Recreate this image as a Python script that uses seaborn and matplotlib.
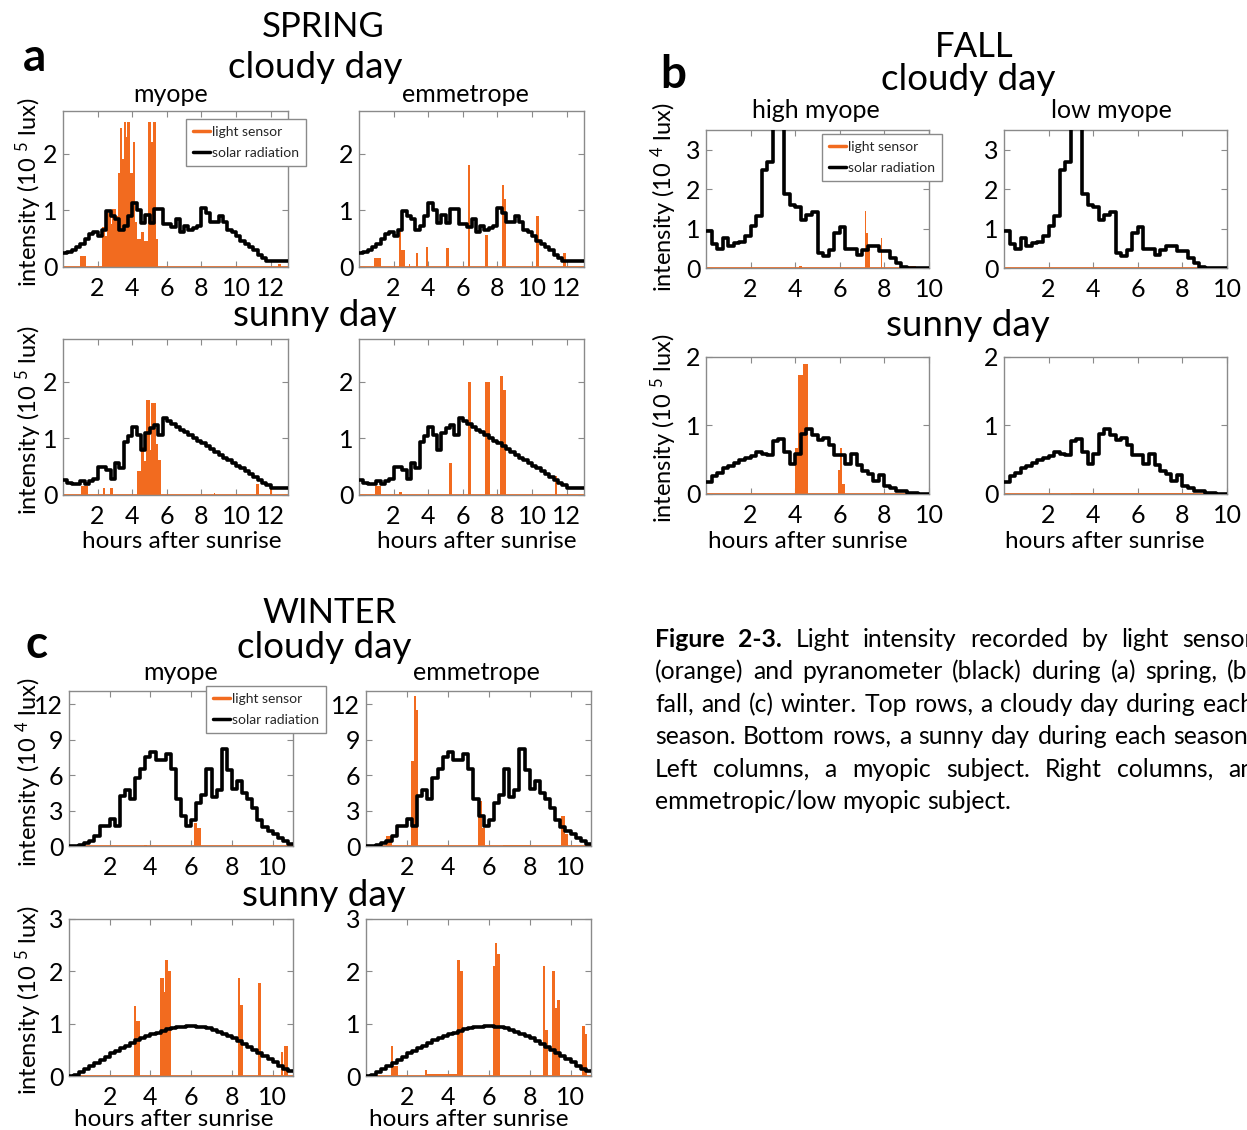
import numpy as np
import matplotlib
matplotlib.use('Agg')
import matplotlib.pyplot as plt
from matplotlib.lines import Line2D
import seaborn as sns

sns.set_theme(style='white')
plt.rcParams['font.family'] = ['Lato', 'DejaVu Sans']
plt.rcParams['mathtext.fontset'] = 'custom'
plt.rcParams['mathtext.rm'] = 'Lato'
plt.rcParams['mathtext.it'] = 'Lato'

W, H = 1247, 1130
ORANGE = '#f26b1f'
BIN = 0.25  # pyranometer values are 15-min averages

# ---- solar radiation (pyranometer), one value per 15 min bin ----
spring_cloudy_solar = [0.25, 0.27, 0.30, 0.35, 0.40, 0.50, 0.58, 0.62, 0.55, 0.66,
                       0.98, 0.90, 0.85, 0.66, 0.72, 0.90, 1.12, 1.00, 0.78, 0.92,
                       0.78, 1.03, 1.03, 0.75, 0.75, 0.70, 0.84, 0.62, 0.72, 0.66,
                       0.68, 0.72, 1.04, 0.95, 0.80, 0.80, 0.90, 0.80, 0.66, 0.62,
                       0.54, 0.45, 0.40, 0.36, 0.30, 0.22, 0.16, 0.10, 0.10, 0.10,
                       0.10, 0.10]
spring_sunny_solar = [0.26, 0.22, 0.19, 0.20, 0.24, 0.19, 0.24, 0.28, 0.50, 0.50,
                      0.44, 0.28, 0.57, 0.47, 0.94, 1.04, 1.20, 1.05, 0.80, 1.09,
                      1.18, 1.24, 1.06, 1.35, 1.30, 1.25, 1.20, 1.15, 1.11, 1.06,
                      1.01, 0.96, 0.91, 0.86, 0.81, 0.76, 0.71, 0.66, 0.62, 0.57,
                      0.52, 0.47, 0.42, 0.37, 0.32, 0.27, 0.22, 0.17, 0.12, 0.12,
                      0.12, 0.12]
fall_cloudy_solar = [0.95, 0.60, 0.48, 0.76, 0.55, 0.63, 0.65, 0.82, 1.06, 1.31,
                     2.49, 2.68, 3.60, 3.60, 1.88, 1.60, 1.54, 1.22, 1.35, 1.41,
                     0.38, 0.30, 0.46, 0.89, 1.04, 0.48, 0.48, 0.34, 0.46, 0.55,
                     0.57, 0.44, 0.42, 0.25, 0.13, 0.03, 0.0, 0.0, 0.0, 0.0]
fall_sunny_solar = [0.18, 0.26, 0.31, 0.38, 0.41, 0.45, 0.50, 0.52, 0.55, 0.61,
                    0.59, 0.57, 0.77, 0.80, 0.62, 0.44, 0.58, 0.87, 0.95, 0.86,
                    0.79, 0.82, 0.72, 0.57, 0.57, 0.44, 0.58, 0.43, 0.33, 0.29,
                    0.19, 0.28, 0.11, 0.09, 0.05, 0.05, 0.02, 0.01, 0.0, 0.0]
winter_cloudy_solar = [0.0, 0.0, 0.05, 0.22, 0.42, 0.83, 1.72, 1.72, 2.28, 1.67,
                       4.22, 4.72, 3.94, 5.75, 6.53, 7.56, 7.97, 7.28, 7.28, 7.78,
                       6.53, 3.94, 2.50, 1.67, 2.22, 3.61, 4.30, 6.53, 4.17, 4.72,
                       8.20, 6.40, 4.80, 5.50, 4.50, 4.00, 3.20, 2.20, 1.60, 1.30,
                       1.00, 0.70, 0.45, 0.15]
winter_sunny_solar = [0.00, 0.02, 0.07, 0.13, 0.19, 0.25, 0.31, 0.37, 0.43, 0.48,
                      0.53, 0.58, 0.63, 0.68, 0.72, 0.76, 0.80, 0.83, 0.86, 0.89,
                      0.91, 0.93, 0.94, 0.95, 0.95, 0.94, 0.93, 0.91, 0.88, 0.85,
                      0.81, 0.77, 0.72, 0.67, 0.62, 0.56, 0.50, 0.44, 0.38, 0.32,
                      0.26, 0.20, 0.14, 0.09]

# ---- light sensor bursts: (start h, end h, intensity) ----
spring_cloudy_myope = [(1.00, 1.35, 0.20), (2.25, 2.45, 0.70), (2.45, 2.55, 0.55),
                       (2.55, 2.75, 0.95), (2.75, 2.85, 0.75), (2.85, 3.05, 1.02),
                       (3.05, 3.20, 0.90), (3.20, 3.30, 1.65), (3.30, 3.42, 2.45),
                       (3.42, 3.50, 1.90), (3.50, 3.62, 2.55), (3.62, 3.72, 2.30),
                       (3.72, 3.85, 2.55), (3.85, 4.05, 1.65), (4.05, 4.18, 2.20),
                       (4.18, 4.30, 0.80), (4.30, 4.50, 0.50), (4.50, 4.70, 0.62),
                       (4.70, 4.90, 0.45), (4.90, 5.10, 2.55), (5.10, 5.20, 2.20),
                       (5.20, 5.35, 2.55), (5.35, 5.50, 0.50), (12.40, 12.60, 0.06)]
spring_cloudy_emm = [(0.87, 1.26, 0.15), (2.33, 2.45, 0.66), (2.45, 2.63, 0.30),
                     (2.86, 2.97, 0.05), (3.30, 3.43, 0.25), (3.85, 4.00, 0.36),
                     (5.03, 5.20, 0.34), (6.27, 6.40, 1.79), (7.28, 7.44, 0.57),
                     (8.28, 8.40, 1.45), (8.40, 8.50, 1.20), (10.20, 10.40, 0.90),
                     (11.76, 11.95, 0.25)]
spring_sunny_myope = [(1.05, 1.45, 0.15), (2.30, 2.43, 0.12), (2.70, 2.90, 0.12),
                      (4.30, 4.50, 0.42), (4.50, 4.70, 0.85), (4.70, 4.80, 0.60),
                      (4.80, 5.00, 1.67), (5.00, 5.10, 0.80), (5.10, 5.40, 1.62),
                      (5.40, 5.50, 0.90), (5.50, 5.67, 0.62), (8.70, 8.80, 0.03),
                      (11.17, 11.30, 0.20), (11.97, 12.10, 0.10)]
spring_sunny_emm = [(0.90, 1.25, 0.15), (2.33, 2.47, 0.05), (5.20, 5.38, 0.56),
                    (6.30, 6.45, 2.00), (7.30, 7.55, 2.00), (8.15, 8.32, 2.10),
                    (8.32, 8.47, 1.85), (11.30, 11.44, 0.34)]
fall_cloudy_high = [(4.15, 4.30, 0.04), (7.12, 7.17, 1.44), (7.17, 7.25, 0.90),
                    (7.25, 7.35, 0.55), (7.83, 7.88, 0.76), (9.10, 9.40, 0.05)]
fall_cloudy_low = [(9.00, 9.30, 0.03)]
fall_sunny_high = [(4.00, 4.12, 0.67), (4.12, 4.35, 1.73), (4.35, 4.58, 1.90),
                   (5.92, 6.00, 0.35), (6.00, 6.10, 0.67), (6.10, 6.25, 0.15)]
fall_sunny_low = [(3.00, 8.50, 0.02)]
winter_cloudy_myope = [(3.70, 3.85, 0.08), (6.15, 6.30, 1.95), (6.30, 6.48, 1.55)]
winter_cloudy_emm = [(0.97, 1.26, 0.83), (2.19, 2.33, 7.20), (2.33, 2.42, 12.70),
                     (2.42, 2.52, 11.50), (5.48, 5.68, 3.80), (5.68, 5.80, 1.50),
                     (6.70, 8.00, 0.08), (9.55, 9.75, 2.55), (9.75, 9.88, 1.00)]
winter_sunny_myope = [(3.20, 3.30, 1.33), (3.30, 3.50, 1.05), (4.47, 4.66, 1.88),
                      (4.66, 4.72, 1.60), (4.72, 4.85, 2.22), (4.85, 5.00, 2.00),
                      (8.30, 8.40, 1.88), (8.40, 8.55, 1.35), (9.28, 9.42, 1.77),
                      (10.40, 10.50, 0.45), (10.55, 10.74, 0.58)]
winter_sunny_emm = [(1.22, 1.32, 0.57), (1.32, 1.55, 0.20), (2.87, 2.97, 0.12),
                    (2.97, 4.45, 0.03), (4.46, 4.59, 2.22), (4.59, 4.75, 2.00),
                    (6.20, 6.30, 2.10), (6.30, 6.40, 2.55), (6.40, 6.53, 2.33),
                    (8.66, 8.77, 2.10), (8.77, 8.90, 0.88), (9.10, 9.24, 2.00),
                    (9.24, 9.35, 1.30), (9.35, 9.49, 1.45), (10.55, 10.69, 0.95),
                    (10.69, 10.80, 0.80)]

spring_xticks = [2, 4, 6, 8, 10, 12]
short_xticks = [2, 4, 6, 8, 10]

caption_lines = [
    "Figure 2-3. Light intensity recorded by light sensor",
    "(orange) and pyranometer (black) during (a) spring, (b)",
    "fall, and (c) winter. Top rows, a cloudy day during each",
    "season. Bottom rows, a sunny day during each season.",
    "Left columns, a myopic subject. Right columns, an",
    "emmetropic/low myopic subject.",
]

fig = plt.figure(figsize=(W / 100, H / 100), dpi=100)


def add_ax(l, t, r, b):
    return fig.add_axes([l / W, 1 - b / H, (r - l) / W, (b - t) / H])


def ftext(x, y, s, **kw):
    kw.setdefault('ha', 'center')
    kw.setdefault('va', 'center')
    return fig.text(x / W, 1 - y / H, s, **kw)


def panel(ax, solar, bursts, xmax, ymax, xticks, yticks):
    # light sensor
    ax.axhline(0, color=ORANGE, lw=2, zorder=2)
    s, e, h = zip(*bursts)
    ax.bar(s, h, width=np.subtract(e, s), align='edge', color=ORANGE, lw=0, zorder=2)
    # pyranometer as steps
    t = np.arange(len(solar) + 1) * BIN
    v = list(solar) + [solar[-1]]
    sns.lineplot(x=t, y=v, drawstyle='steps-post', color='black', lw=2.6, ax=ax, zorder=3)
    ax.set_xlim(0, xmax)
    ax.set_ylim(0, ymax)
    ax.set_xticks(xticks)
    ax.set_yticks(yticks)
    ax.tick_params(axis='both', direction='in', length=4, width=0.8, color='#8a8a8a',
                   labelsize=18, labelcolor='black', bottom=True, left=True, top=True, right=True)
    ax.tick_params(axis='x', pad=7)
    ax.tick_params(axis='y', pad=4)
    for sp in ax.spines.values():
        sp.set_color('#8a8a8a')
        sp.set_linewidth(1)
    ax.set_xlabel('')
    ax.set_ylabel('')


def legend_box(x, y):
    handles = [Line2D([], [], color=ORANGE, lw=2.5), Line2D([], [], color='black', lw=2.5)]
    leg = fig.legend(handles, ['light sensor', 'solar radiation'], loc='upper left',
                     bbox_to_anchor=(x / W, 1 - y / H), fontsize=10, frameon=True,
                     fancybox=False, edgecolor='#8a8a8a', framealpha=1,
                     handlelength=1.2, handletextpad=0.15, labelspacing=0.65,
                     borderpad=0.5, borderaxespad=0)
    leg.get_frame().set_linewidth(1)
    leg.set_zorder(10)


# ---- a: spring ----
axes = [
    (add_ax(63, 111, 288, 267), spring_cloudy_solar, spring_cloudy_myope, 13, 2.75, spring_xticks, [0, 1, 2]),
    (add_ax(359, 111, 584, 267), spring_cloudy_solar, spring_cloudy_emm, 13, 2.75, spring_xticks, [0, 1, 2]),
    (add_ax(63, 339, 288, 495), spring_sunny_solar, spring_sunny_myope, 13, 2.75, spring_xticks, [0, 1, 2]),
    (add_ax(359, 339, 584, 495), spring_sunny_solar, spring_sunny_emm, 13, 2.75, spring_xticks, [0, 1, 2]),
    # ---- b: fall ----
    (add_ax(706, 130, 929, 268), fall_cloudy_solar, fall_cloudy_high, 10, 3.5, short_xticks, [0, 1, 2, 3]),
    (add_ax(1004, 130, 1227, 268), fall_cloudy_solar, fall_cloudy_low, 10, 3.5, short_xticks, [0, 1, 2, 3]),
    (add_ax(706, 357, 929, 494), fall_sunny_solar, fall_sunny_high, 10, 2, short_xticks, [0, 1, 2]),
    (add_ax(1004, 357, 1227, 494), fall_sunny_solar, fall_sunny_low, 10, 2, short_xticks, [0, 1, 2]),
    # ---- c: winter ----
    (add_ax(69, 691, 293, 846), winter_cloudy_solar, winter_cloudy_myope, 11, 13.1, short_xticks, [0, 3, 6, 9, 12]),
    (add_ax(366, 691, 591, 846), winter_cloudy_solar, winter_cloudy_emm, 11, 13.1, short_xticks, [0, 3, 6, 9, 12]),
    (add_ax(69, 919, 293, 1076), winter_sunny_solar, winter_sunny_myope, 11, 3, short_xticks, [0, 1, 2, 3]),
    (add_ax(366, 919, 591, 1076), winter_sunny_solar, winter_sunny_emm, 11, 3, short_xticks, [0, 1, 2, 3]),
]
for args in axes:
    panel(*args)

legend_box(186, 119)
legend_box(822, 134)
legend_box(206, 686)

# titles
season = dict(fontsize=25, color='black')
day = dict(fontsize=26.5, color='black')
ftext(323, 27, 'SPRING', **season)
ftext(315, 67, 'cloudy day', **day)
ftext(315, 315, 'sunny day', **day)
ftext(974, 47, 'FALL', **season)
ftext(968, 80, 'cloudy day', **day)
ftext(968, 326, 'sunny day', **day)
ftext(330, 613, 'WINTER', **season)
ftext(324, 647, 'cloudy day', **day)
ftext(324, 895, 'sunny day', **day)

letter = dict(fontsize=33, fontweight='bold', color='black')
ftext(34, 58, 'a', **letter)
ftext(673, 75, 'b', **letter)
ftext(37, 645, 'c', **letter)

sub = dict(fontsize=18, color='black')
ftext(171, 94, 'myope', **sub)
ftext(465, 94, 'emmetrope', **sub)
ftext(816, 110, 'high myope', **sub)
ftext(1111, 110, 'low myope', **sub)
ftext(181, 673, 'myope', **sub)
ftext(476, 673, 'emmetrope', **sub)

xl = dict(fontsize=17.5, color='black')
for x, y in [(182, 541), (477, 541), (808, 541), (1105, 541), (174, 1119), (469, 1119)]:
    ftext(x, y, 'hours after sunrise', **xl)

yl = dict(fontsize=17, color='black', rotation=90)
lab5 = r'intensity (10 $^{\mathrm{5}}$ lux)'
lab4 = r'intensity (10 $^{\mathrm{4}}$ lux)'
ftext(29, 192, lab5, **yl)
ftext(29, 420, lab5, **yl)
ftext(664, 197, lab4, **yl)
ftext(664, 428, lab5, **yl)
ftext(29, 772, lab4, **yl)
ftext(29, 1000, lab5, **yl)

# ---- caption, justified ----
renderer = fig.canvas.get_renderer()
probe = fig.text(0, 0, caption_lines[-1], fontsize=17)
cap_size = 17 * 357 / probe.get_window_extent(renderer).width
probe.remove()

left, right = 655, 1254
baselines = [647, 679, 712, 744, 777, 809]
for i, (line, base) in enumerate(zip(caption_lines, baselines)):
    words = line.split(' ')
    texts = []
    for j, w in enumerate(words):
        bold = (i == 0 and j < 2)
        texts.append(fig.text(0, 1 - base / H, w, fontsize=cap_size, va='baseline',
                              ha='left', fontweight='bold' if bold else 'normal', color='black'))
    widths = [t.get_window_extent(renderer).width for t in texts]
    if i < len(caption_lines) - 1:
        gap = (right - left - sum(widths)) / (len(words) - 1)
    else:
        space = fig.text(0, 0, 'a a', fontsize=cap_size)
        aa = fig.text(0, 0, 'aa', fontsize=cap_size)
        gap = space.get_window_extent(renderer).width - aa.get_window_extent(renderer).width
        space.remove()
        aa.remove()
    x = left
    for t, wd in zip(texts, widths):
        t.set_x(x / W)
        x += wd + gap

fig.savefig('out.png', dpi=100, facecolor='white')
